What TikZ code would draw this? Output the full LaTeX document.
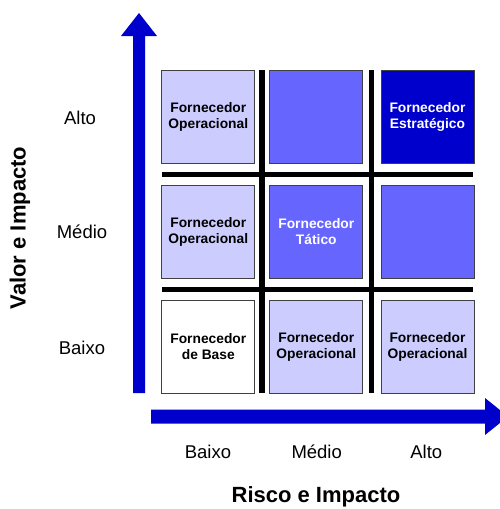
\documentclass[tikz,border=0pt]{standalone}
\usepackage{fontspec}
\setmainfont{Liberation Sans}
\begin{document}
\begin{tikzpicture}[x=1pt,y=-1pt,
  cell/.style={draw=black!75,line width=0.9pt,minimum width=93pt,minimum height=93pt,inner sep=0pt,align=center,font=\bfseries\fontsize{13.8}{16}\selectfont},
  light/.style={cell,fill=lightc},
  mid/.style={cell,fill=midc,text=white},
  dark/.style={cell,fill=darkc,text=white},
  plain/.style={cell,fill=white},
  lvl/.style={font=\fontsize{18.5}{20}\selectfont},
  axtitle/.style={font=\bfseries\fontsize{22}{24}\selectfont},
  grid/.style={line width=5.5pt,black}]
\definecolor{lightc}{HTML}{CCCCFF}
\definecolor{midc}{HTML}{6666FF}
\definecolor{darkc}{HTML}{0000CC}
\useasboundingbox (0,0) rectangle (499,509);
% grid lines
\draw[grid] (262,70) -- (262,393);
\draw[grid] (371.7,70) -- (371.7,393);
\draw[grid] (162,174.3) -- (473,174.3);
\draw[grid] (162,289.5) -- (473,289.5);
% cells
\node[light] (c11) at (208.3,116.5) {Fornecedor\\Operacional};
\node[mid]   (c12) at (316.3,116.5) {};
\node[dark]  (c13) at (427.5,116.5) {Fornecedor\\Estratégico};
\node[light] (c21) at (208.3,231.7) {Fornecedor\\Operacional};
\node[mid]   (c22) at (316.3,231.7) {Fornecedor\\Tático};
\node[mid]   (c23) at (427.5,231.7) {};
\node[plain] (c31) at (208.3,347) {Fornecedor\\de Base};
\node[light] (c32) at (316.3,347) {Fornecedor\\Operacional};
\node[light] (c33) at (427.5,347) {Fornecedor\\Operacional};
% arrows
\fill[darkc] (133,393) -- (133,36) -- (121,36) -- (139,13) -- (157,36) -- (145,36) -- (145,393) -- cycle;
\fill[darkc] (151,409.5) -- (485,409.5) -- (485,398) -- (508,416.5) -- (485,435) -- (485,423.5) -- (151,423.5) -- cycle;
% level labels
\node[lvl] (ya) at (80,118) {Alto};
\node[lvl] (ym) at (82,232) {Médio};
\node[lvl] (yb) at (82,348) {Baixo};
\node[lvl] (xb) at (208,451.7) {Baixo};
\node[lvl] (xm) at (316.7,451.7) {Médio};
\node[lvl] (xa) at (426.3,451.7) {Alto};
% titles
\node[axtitle] (xt) at (316,496.5) {Risco e Impacto};
\node[axtitle,rotate=90] (yt) at (20,228) {Valor e Impacto};
\end{tikzpicture}
\end{document}
